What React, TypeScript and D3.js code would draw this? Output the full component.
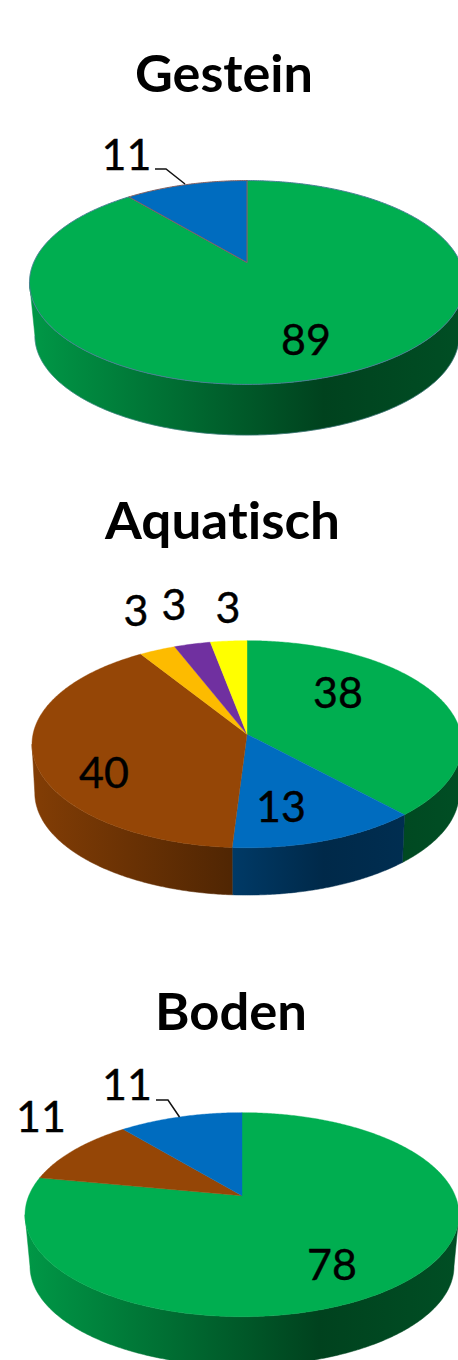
import React from "react";
import * as d3 from "d3";

const WIDTH = 458;
const HEIGHT = 1360;

const titles = ["Gestein", "Aquatisch", "Boden"];
const gesteinValues = [89, 11];
const gesteinColors = ["#00AE50", "#006CBF"];
const aquatischValues = [38, 13, 40, 3, 3, 3];
const aquatischColors = ["#00AE50", "#006CBF", "#954606", "#FDBB00", "#7030A0", "#FFFF00"];
const bodenValues = [78, 11, 11];
const bodenColors = ["#00AE50", "#954606", "#006CBF"];

// Geometry of the three perspective discs
const apexX = [247, 247, 242];
const apexY = [262.5, 734.3, 1195.7];
const radiusX = [213.3, 214, 213.2];
const radiusY = [98, 102.6, 98.5];
const tilt = [0.196, 0.0957, 0.186];
const depth = [53.7, 48.8, 52];
const baseScale = [0.975, 0.987, 0.977];
const outlines = [["#4A7F95", "#85605F"], [null, null, null, null, null, null], [null, null, null]];

const titleX = [224, 222.5, 231];
const titleY = [91.5, 538.5, 1029.5];
const titleW = [178, 235, 152];

const labelTexts = [["89", "11"], ["38", "13", "40", "3", "3", "3"], ["78", "11", "11"]];
const labelX = [[306, 126.5], [338, 281, 104, 136, 174, 228], [332, 41, 127]];
const labelY = [[355, 170], [708, 822, 788, 626, 620, 623], [1280, 1132, 1100]];

const leaderX = [[155, 166, 185], null, [156, 168, 179.5]];
const leaderY = [[169, 169, 184], null, [1100, 1100, 1117]];

// Side shading: multiplier of slice colour along the width of the disc
const shadeStops = [0, 0.68, 1];
const shadeValues = [0.87, 0.38, 0.45];

const allValues = [gesteinValues, aquatischValues, bodenValues];
const allColors = [gesteinColors, aquatischColors, bodenColors];

const pieGen = d3.pie<number>().sort(null).value((d) => d);
const lineGen = d3.line<[number, number]>();

function angles(a0: number, a1: number): number[] {
  const n = Math.max(2, Math.ceil((a1 - a0) / 0.01));
  return d3.range(n).map((i) => a0 + ((a1 - a0) * i) / (n - 1));
}

function project(i: number, a: number, bottom: boolean): [number, number] {
  const den = 1 + tilt[i] * Math.cos(a);
  const s = bottom ? baseScale[i] : 1;
  const x = (radiusX[i] * Math.sin(a)) / den;
  const y = (radiusY[i] * Math.cos(a)) / den;
  return [apexX[i] + x * s, apexY[i] + (bottom ? depth[i] : 0) - y * s];
}

function Disc({ i }: { i: number }) {
  const arcs = pieGen(allValues[i]);
  const colors = allColors[i];
  const left = apexX[i] - radiusX[i];
  const right = apexX[i] + radiusX[i];
  // The wall is visible between the two points where the rim is widest
  const frontStart = Math.acos(-tilt[i]);
  const frontEnd = 2 * Math.PI - frontStart;
  return (
    <g>
      <defs>
        {colors.map((c, j) => {
          const rgb = d3.rgb(c);
          return (
            <linearGradient key={j} id={`side-${i}-${j}`} gradientUnits="userSpaceOnUse" x1={left} x2={right} y1={0} y2={0}>
              {shadeStops.map((o, k) => (
                <stop
                  key={k}
                  offset={o}
                  stopColor={d3.rgb(rgb.r * shadeValues[k], rgb.g * shadeValues[k], rgb.b * shadeValues[k]).formatHex()}
                />
              ))}
            </linearGradient>
          );
        })}
      </defs>
      {arcs.map((d, j) => {
        const a0 = Math.max(d.startAngle, frontStart);
        const a1 = Math.min(d.endAngle, frontEnd);
        if (a1 <= a0) return null;
        const as = angles(a0, a1);
        const top = as.map((a) => project(i, a, false));
        const bot = as.map((a) => project(i, a, true)).reverse();
        return (
          <path
            key={j}
            d={lineGen([...top, ...bot]) + "Z"}
            fill={`url(#side-${i}-${j})`}
            stroke={`url(#side-${i}-${j})`}
            strokeWidth={0.5}
          />
        );
      })}
      {outlines[i][0] && (
        <path
          d={lineGen(angles(frontStart, frontEnd).map((a) => project(i, a, true))) || ""}
          fill="none"
          stroke={outlines[i][0] as string}
          strokeOpacity={0.5}
          strokeWidth={1}
        />
      )}
      {arcs.map((d, j) => {
        const pts: [number, number][] = [
          [apexX[i], apexY[i]],
          ...angles(d.startAngle, d.endAngle).map((a) => project(i, a, false)),
        ];
        return (
          <path
            key={j}
            d={lineGen(pts) + "Z"}
            fill={colors[j]}
            stroke={outlines[i][j] || colors[j]}
            strokeWidth={outlines[i][j] ? 1 : 0.4}
            strokeLinejoin="round"
          />
        );
      })}
      {leaderX[i] && (
        <path
          d={lineGen((leaderX[i] as number[]).map((x, k) => [x, (leaderY[i] as number[])[k]] as [number, number])) || ""}
          fill="none"
          stroke="#111"
          strokeWidth={1.5}
        />
      )}
      {labelTexts[i].map((t, j) => (
        <text
          key={j}
          x={labelX[i][j]}
          y={labelY[i][j]}
          textAnchor="middle"
          fontFamily="Lato, 'Noto Sans', sans-serif"
          fontSize={43}
          fill="#000"
          stroke="#000"
          strokeWidth={0.4}
        >
          {t}
        </text>
      ))}
      <text
        x={titleX[i]}
        y={titleY[i]}
        textAnchor="middle"
        fontFamily="Lato, 'Noto Sans', sans-serif"
        fontWeight={700}
        fontSize={52}
        textLength={titleW[i]}
        lengthAdjust="spacingAndGlyphs"
        style={{ fontVariantLigatures: "none" }}
        fill="#000"
      >
        {titles[i]}
      </text>
    </g>
  );
}

export default function App() {
  return (
    <svg
      width={WIDTH}
      height={HEIGHT}
      viewBox={`0 0 ${WIDTH} ${HEIGHT}`}
      style={{ position: "absolute", left: 0, top: 0, display: "block", background: "#fff" }}
    >
      {titles.map((_, i) => (
        <Disc key={i} i={i} />
      ))}
    </svg>
  );
}
